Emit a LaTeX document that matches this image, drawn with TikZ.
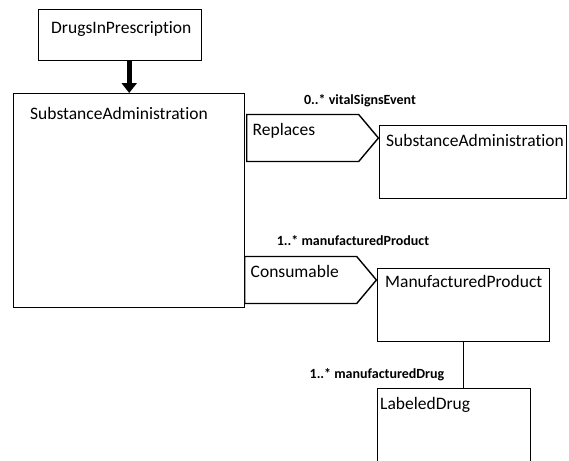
\documentclass[tikz,border=0pt]{standalone}
\usepackage{fontspec}
\setmainfont{Carlito}[Ligatures=NoCommon]
\usetikzlibrary{shapes.symbols,arrows.meta}

\begin{document}
\begin{tikzpicture}[x=1pt,y=-1pt,
        box/.style={draw,line width=1.4pt,anchor=north west,inner sep=0pt},
        title/.style={anchor=north west,inner sep=0pt,font=\fontsize{17.5}{20}\selectfont},
        role/.style={draw,line width=1.4pt,signal,signal to=east,signal pointer angle=100,anchor=west,
            minimum height=47pt,text width=100pt,inner xsep=6pt,text height=12pt,text depth=18pt,
            align=left,font=\fontsize{17.5}{20}\selectfont},
        mult/.style={inner sep=0pt,font=\bfseries\fontsize{14}{16}\selectfont}]

    \clip (0,0) rectangle (569,460);
    \fill[white] (0,0) rectangle (569,460);

    % classes
    \node[box,minimum width=163pt,minimum height=51pt] (drugs) at (38,9) {};
    \node[title] (drugsname) at (51,21) {DrugsInPrescription};

    \node[box,minimum width=231pt,minimum height=214pt] (sa) at (13,93) {};
    \node[title] (saname) at (30,107) {SubstanceAdministration};

    \node[box,minimum width=187pt,minimum height=73pt] (sa2) at (379,125) {};
    \node[title] (sa2name) at (386,134) {SubstanceAdministration};

    \node[box,minimum width=172pt,minimum height=73pt] (mp) at (377,268) {};
    \node[title] (mpname) at (385,275) {ManufacturedProduct};

    \node[box,minimum width=153pt,minimum height=100pt] (ld) at (377,388) {};
    \node[title] (ldname) at (380,397) {LabeledDrug};

    % act relationships
    \node[role] (replaces) at (246,138) {Replaces};
    \node[role] (consumable) at (244,280) {Consumable};

    % multiplicities
    \node[mult] (vse) at (360,101) {0..* vitalSignsEvent};
    \node[mult] (mpmult) at (353,241) {1..* manufacturedProduct};
    \node[mult] (ldmult) at (377,375) {1..* manufacturedDrug};

    % connectors
    \draw[line width=5pt,-{Triangle[width=15pt,length=10pt]}] (sa.north |- drugs.south) -- (sa.north);
    \draw[line width=1.4pt] (mp.south) -- (mp.south |- ld.north);
\end{tikzpicture}
\end{document}
